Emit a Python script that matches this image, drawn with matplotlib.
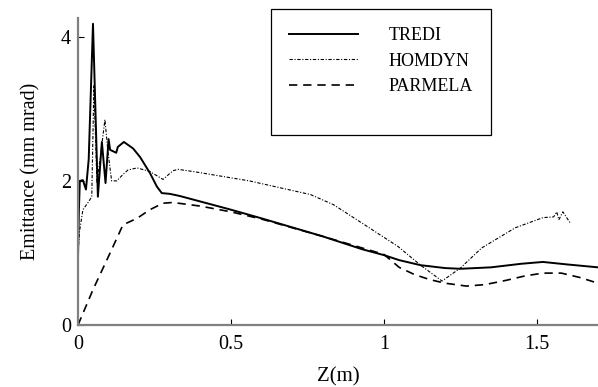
import numpy as np
import matplotlib
matplotlib.use("Agg")
import matplotlib.pyplot as plt
from matplotlib.lines import Line2D

plt.rcParams['font.family'] = ['Liberation Serif', 'DejaVu Serif']

# TREDI
z_tredi = [0.0, 0.003, 0.006, 0.016, 0.026, 0.035, 0.049, 0.065, 0.078, 0.09,
           0.1, 0.105, 0.125, 0.13, 0.15, 0.18, 0.203, 0.235, 0.258, 0.274,
           0.3, 0.333, 0.5, 0.6, 0.8, 0.93, 1.0, 1.05, 1.12, 1.2, 1.25, 1.35,
           1.45, 1.52, 1.6, 1.7]
e_tredi = [0.94, 1.6, 2.0, 2.01, 1.88, 2.3, 4.18, 1.78, 2.54, 1.97,
           2.58, 2.43, 2.39, 2.47, 2.54, 2.45, 2.33, 2.11, 1.92, 1.83,
           1.82, 1.79, 1.6, 1.48, 1.23, 1.05, 0.97, 0.9, 0.83, 0.79, 0.78, 0.8,
           0.85, 0.875, 0.84, 0.8]

# HOMDYN
z_homdyn = [0.0, 0.005, 0.016, 0.033, 0.045, 0.052, 0.062, 0.075, 0.088, 0.098,
            0.11, 0.127, 0.145, 0.163, 0.193, 0.235, 0.278, 0.31, 0.327, 0.376,
            0.56, 0.76, 0.835, 0.93, 1.046, 1.12, 1.19, 1.25, 1.32, 1.43,
            1.52, 1.555, 1.565, 1.572, 1.585, 1.61]
e_homdyn = [1.0, 1.3, 1.6, 1.7, 1.78, 3.33, 1.97, 2.4, 2.85, 2.4,
            2.0, 2.0, 2.08, 2.15, 2.18, 2.13, 2.02, 2.14, 2.16, 2.13,
            2.0, 1.81, 1.67, 1.41, 1.09, 0.83, 0.61, 0.79, 1.07, 1.35,
            1.49, 1.5, 1.57, 1.46, 1.57, 1.41]

# PARMELA
z_parmela = [0.0, 0.049, 0.105, 0.147, 0.193, 0.235, 0.278, 0.31, 0.4, 0.5,
             0.6, 0.8, 1.0, 1.05, 1.1, 1.15, 1.2, 1.27, 1.33, 1.4, 1.46,
             1.52, 1.58, 1.64, 1.7]
e_parmela = [0.0, 0.49, 1.0, 1.39, 1.48, 1.6, 1.69, 1.7, 1.65, 1.57,
             1.47, 1.23, 0.98, 0.8, 0.7, 0.63, 0.58, 0.54, 0.56, 0.62, 0.68,
             0.72, 0.72, 0.66, 0.58]

fig = plt.figure(figsize=(5.98, 3.87), dpi=100)
ax = fig.add_axes([78/598, 62/387, 520/598, 307/387])

ax.plot(z_tredi, e_tredi, color='black', lw=1.4, ls='-', label='TREDI')
ax.plot(z_homdyn, e_homdyn, color='black', lw=0.8, ls=(0, (3, 1.5, 1, 1.5)), label='HOMDYN')
ax.plot(z_parmela, e_parmela, color='black', lw=1.2, ls=(0, (5, 3.5)), label='PARMELA')

ax.set_xlim(0, 1.7)
ax.set_ylim(0, 4.26)
ax.set_xticks([0, 0.5, 1, 1.5])
ax.set_xticklabels(['0', '0.5', '1', '1.5'])
ax.set_yticks([0, 2, 4])

for s in ['top', 'right']:
    ax.spines[s].set_visible(False)
for s in ['left', 'bottom']:
    ax.spines[s].set_color('#808080')
    ax.spines[s].set_linewidth(1.6)

ax.tick_params(direction='in', length=4, width=0.8, colors='black', labelsize=14.5)
ax.tick_params(axis='x', pad=7)
ax.tick_params(axis='y', pad=5)

ax.set_xlabel('Z(m)', fontsize=15, labelpad=10)
ax.set_ylabel('Emittance (mm mrad)', fontsize=14.5, labelpad=15)

# blank last row gives the extra space at the bottom of the box
handles, labels = ax.get_legend_handles_labels()
handles.append(Line2D([], [], color='none'))
labels.append(' ')
leg = ax.legend(handles, labels, loc='upper left',
                bbox_to_anchor=(271/598, 1 - 9/387), bbox_transform=fig.transFigure,
                fontsize=13, frameon=True, fancybox=False, framealpha=1,
                edgecolor='black', handlelength=3.8, handletextpad=1.7,
                labelspacing=0.47, borderpad=1.0, borderaxespad=0)
leg.get_texts()[-1].set_fontsize(5)
leg.get_frame().set_linewidth(0.9)

fig.savefig('out.png', dpi=100)
